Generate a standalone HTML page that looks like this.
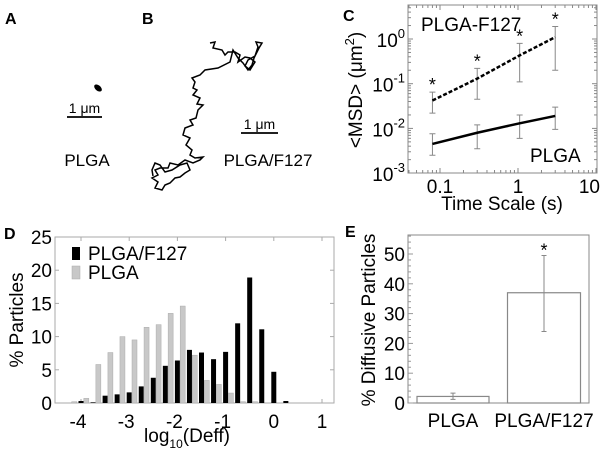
<!DOCTYPE html>
<html><head><meta charset="utf-8"><style>
html,body{margin:0;padding:0;background:#fff}
svg{display:block;font-family:"Liberation Sans",Arial,sans-serif}
</style></head><body>
<svg id="fig" width="601" height="455" viewBox="0 0 601 455">
<g id="pa">
<text x="5" y="24" font-size="16" font-weight="bold">A</text>
<ellipse cx="98" cy="88" rx="4.5" ry="2.7" transform="rotate(40 98 88)" fill="#000"/>
<line x1="67" y1="117" x2="102" y2="117" stroke="#000" stroke-width="1.8"/>
<text x="84.5" y="113" font-size="14" text-anchor="middle">1 μm</text>
<text x="87" y="166" font-size="17" text-anchor="middle">PLGA</text>
</g>
<g id="pb">
<text x="142" y="24" font-size="16" font-weight="bold">B</text>
<polyline fill="none" stroke="#000" stroke-width="1.5" points="210,43 215,42 213,48 222,50 225,55 228,52 235,52 240,55 238,62 245,57 250,58 255,62 250,70 245,66 248,60 255,56 258,47 256,42 262,43 259,48 254,58 252,65 248,70 243,63 238,58 233,50 230,62 218,68 205,70 200,75 192,78 195,82 193,88 197,90 193,95 200,98 197,104 203,105 198,110 196,118 190,120 193,125 185,128 183,135 190,138 186,145 192,150 190,155 195,158 203,157 200,160 193,163 185,160 178,165 170,163 168,168 160,168 155,170 158,175 152,178 158,182 155,188 162,190 165,185 170,183 175,178 180,177 185,173 190,170 187,163 180,165 172,170 165,172 160,165 155,163 152,170 153,176"/>
<line x1="241" y1="133" x2="278" y2="133" stroke="#000" stroke-width="1.8"/>
<text x="259.5" y="129" font-size="14" text-anchor="middle">1 μm</text>
<text x="268" y="166" font-size="17" text-anchor="middle">PLGA/F127</text>
</g>
<g id="pc"></g>
<g id="pd"></g>
<g id="pe"></g>
</svg>
<script>
const NS="http://www.w3.org/2000/svg";
// Panel C data
const cTimes=[0.08,0.3,1.05,3.0];
const cF127=[0.042,0.13,0.43,1.1];
const cF127Hi=[0.065,0.22,0.8,1.9];
const cF127Lo=[0.022,0.045,0.11,0.2];
const cPLGA=[0.0045,0.008,0.013,0.019];
const cPLGAHi=[0.0076,0.012,0.02,0.03];
const cPLGALo=[0.0025,0.0035,0.006,0.0095];
const cXTicks=[0.1,1,10];
const cXTickLabels=["0.1","1","10"];
const cYTicks=[-3,-2,-1,0];
// Panel D data
const dBins=[-4.07,-3.82,-3.57,-3.32,-3.07,-2.82,-2.57,-2.32,-2.07,-1.82,-1.57,-1.32,-1.07,-0.82,-0.57,-0.32,-0.07,0.18];
const dPLGA=[0.2,0.7,5.8,7.6,10,9.5,11.4,11.8,13.5,14.6,7.2,3.4,2.8,1.5,0.2,0.2,0,0];
const dF127=[0.3,0.1,1.1,1.3,1.6,2.5,3.8,5.6,6.4,8.0,7.6,6.6,7.7,12,18.9,11.1,4.7,0.3];
const dXTicks=[-4,-3,-2,-1,0,1];
const dYTicks=[0,5,10,15,20,25];
// Panel E data
const eCats=["PLGA","PLGA/F127"];
const eVals=[2.2,37];
const eErrHi=[3.3,49.5];
const eErrLo=[1.2,24];
const eYTicks=[0,10,20,30,40,50];

function mk(parent,tag,attrs,text){const e=document.createElementNS(NS,tag);for(const k in attrs)e.setAttribute(k,attrs[k]);if(text!==undefined)e.textContent=text;parent.appendChild(e);return e;}

// ---------- Panel C ----------
(function(){
const g=document.getElementById('pc');
const L=408,R=597,T=5,B=173;
const xs=t=>440+78*Math.log10(t/0.1);
const ys=v=>39-44.7*Math.log10(v);
let t=mk(g,'text',{x:343,y:21,'font-size':16,'font-weight':'bold'},'C');


let r=mk(g,'rect',{x:L,y:T,width:R-L,height:B-T,fill:'none',stroke:'#888','stroke-width':1});


for(let d=-2;d<=1;d++)for(let k=1;k<10;k++){const x=xs(k*Math.pow(10,d));if(x<L||x>R)continue;const len=k===1?5:3;
mk(g,'line',{x1:x,y1:B,x2:x,y2:B-len,stroke:'#888'});mk(g,'line',{x1:x,y1:T,x2:x,y2:T+len,stroke:'#888'});}
for(let d=-4;d<=0;d++)for(let k=1;k<10;k++){const y=ys(k*Math.pow(10,d));if(y<T||y>B)continue;const len=k===1?5:3;
mk(g,'line',{x1:L,y1:y,x2:L+len,y2:y,stroke:'#888'});mk(g,'line',{x1:R,y1:y,x2:R-len,y2:y,stroke:'#888'});}
cXTicks.forEach((v,i)=>{const last=i===cXTicks.length-1;const e=mk(g,'text',{x:last?600:xs(v),y:B+20,'font-size':19,'text-anchor':last?'end':'middle'},cXTickLabels[i]);

});
cYTicks.forEach(p=>{const e=mk(g,'text',{x:L-3,y:ys(Math.pow(10,p))+8,'font-size':19,'text-anchor':'end'});


e.appendChild(document.createTextNode('10'));mk(e,'tspan',{dy:-9,'font-size':13},String(p));});
let xl=mk(g,'text',{x:502,y:210,'font-size':19,'text-anchor':'middle'},'Time Scale (s)');


let yl=mk(g,'text',{x:0,y:0,'font-size':19,'text-anchor':'middle',transform:'translate(362,90) rotate(-90)'});


yl.appendChild(document.createTextNode('<MSD> (μm'));mk(yl,'tspan',{dy:-8,'font-size':13},'2');mk(yl,'tspan',{dy:8},')');
function err(hi,lo,name){cTimes.forEach((tt,i)=>{const x=xs(tt);const e=mk(g,'path',{d:`M${x},${ys(hi[i])}V${ys(lo[i])}M${x-3},${ys(hi[i])}h6M${x-3},${ys(lo[i])}h6`,stroke:'#888',fill:'none'});

});}
err(cF127Hi,cF127Lo,'error-bar-f127');err(cPLGAHi,cPLGALo,'error-bar-plga');
let l1=mk(g,'polyline',{points:cTimes.map((tt,i)=>xs(tt)+','+ys(cF127[i])).join(' '),fill:'none',stroke:'#000','stroke-width':2.5,'stroke-dasharray':'4,2'});


let l2=mk(g,'polyline',{points:cTimes.map((tt,i)=>xs(tt)+','+ys(cPLGA[i])).join(' '),fill:'none',stroke:'#000','stroke-width':2.5});


cTimes.forEach((tt,i)=>{const e=mk(g,'text',{x:xs(tt),y:ys(cF127Hi[i])-1,'font-size':18,'text-anchor':'middle'},'*');

});
let a=mk(g,'text',{x:421,y:31,'font-size':19},'PLGA-F127');


let b=mk(g,'text',{x:530,y:162,'font-size':19},'PLGA');


})();

// ---------- Panel D ----------
(function(){
const g=document.getElementById('pd');
const L=55,R=334,T=237,B=403;
const xs=v=>81+48.2*(v+4);
const ys=v=>B-6.64*v;
let t=mk(g,'text',{x:4,y:239,'font-size':16,'font-weight':'bold'},'D');


let r=mk(g,'rect',{x:L,y:T,width:R-L,height:B-T,fill:'none',stroke:'#aaa','stroke-width':1});


dXTicks.forEach(v=>{mk(g,'line',{x1:xs(v),y1:B,x2:xs(v),y2:B-4,stroke:'#aaa'});mk(g,'line',{x1:xs(v),y1:T,x2:xs(v),y2:T+4,stroke:'#aaa'});
const e=mk(g,'text',{x:xs(v)-(v<0?3:0),y:B+25,'font-size':19,'text-anchor':'middle'},String(v));

});
dYTicks.forEach(v=>{mk(g,'line',{x1:L,y1:ys(v),x2:L+4,y2:ys(v),stroke:'#aaa'});mk(g,'line',{x1:R,y1:ys(v),x2:R-4,y2:ys(v),stroke:'#aaa'});
const e=mk(g,'text',{x:L-3,y:ys(v)+7,'font-size':19,'text-anchor':'end'},String(v));

});
dBins.forEach((c,i)=>{
const g1=mk(g,'rect',{x:xs(c-0.07)-2.5,y:ys(dPLGA[i]),width:5,height:B-ys(dPLGA[i]),fill:'#c8c8c8',stroke:'#aaa','stroke-width':0.5});


const g2=mk(g,'rect',{x:xs(c+0.07)-2.5,y:ys(dF127[i]),width:5,height:B-ys(dF127[i]),fill:'#000'});

});
const lg1=mk(g,'rect',{x:72,y:247,width:8,height:13,fill:'#000'});


const lt1=mk(g,'text',{x:88,y:260,'font-size':19},'PLGA/F127');


const lg2=mk(g,'rect',{x:72,y:266,width:8,height:13,fill:'#c8c8c8',stroke:'#aaa','stroke-width':0.5});


const lt2=mk(g,'text',{x:88,y:279,'font-size':19},'PLGA');


const xl=mk(g,'text',{x:187,y:442,'font-size':19,'text-anchor':'middle'});


xl.appendChild(document.createTextNode('log'));mk(xl,'tspan',{dy:6,'font-size':12},'10');mk(xl,'tspan',{dy:-6},'(Deff)');
const yl=mk(g,'text',{x:0,y:0,'font-size':19,'text-anchor':'middle',transform:'translate(23,320) rotate(-90)'},'% Particles');


})();

// ---------- Panel E ----------
(function(){
const g=document.getElementById('pe');
const L=408,R=589,T=235,B=403;
const ys=v=>B-2.98*v;
const cx=[453,544],bw=[72,73];
let t=mk(g,'text',{x:345,y:237,'font-size':16,'font-weight':'bold'},'E');


let r=mk(g,'rect',{x:L,y:T,width:R-L,height:B-T,fill:'none',stroke:'#888','stroke-width':1});


for(let v=0;v<=56;v+=2){mk(g,'line',{x1:L,y1:ys(v),x2:L+(v%10===0?5:3),y2:ys(v),stroke:'#999'});}
eYTicks.forEach(v=>{const e=mk(g,'text',{x:L-3,y:ys(v)+7,'font-size':19,'text-anchor':'end'},String(v));

});
eCats.forEach((c,i)=>{
const b=mk(g,'rect',{x:cx[i]-bw[i]/2,y:ys(eVals[i]),width:bw[i],height:B-ys(eVals[i]),fill:'#fff',stroke:'#888','stroke-width':1.2});


const e=mk(g,'path',{d:`M${cx[i]},${ys(eErrHi[i])}V${ys(eErrLo[i])}M${cx[i]-2.5},${ys(eErrHi[i])}h5M${cx[i]-2.5},${ys(eErrLo[i])}h5`,stroke:'#888',fill:'none'});


const l=mk(g,'text',{x:cx[i],y:427,'font-size':19,'text-anchor':'middle'},c);

});
const s=mk(g,'text',{x:cx[1],y:ys(eErrHi[1])+1,'font-size':18,'text-anchor':'middle'},'*');


const yl=mk(g,'text',{x:0,y:0,'font-size':19,'text-anchor':'middle',transform:'translate(375,320) rotate(-90)'},'% Diffusive Particles');


})();
</script>
</body></html>
